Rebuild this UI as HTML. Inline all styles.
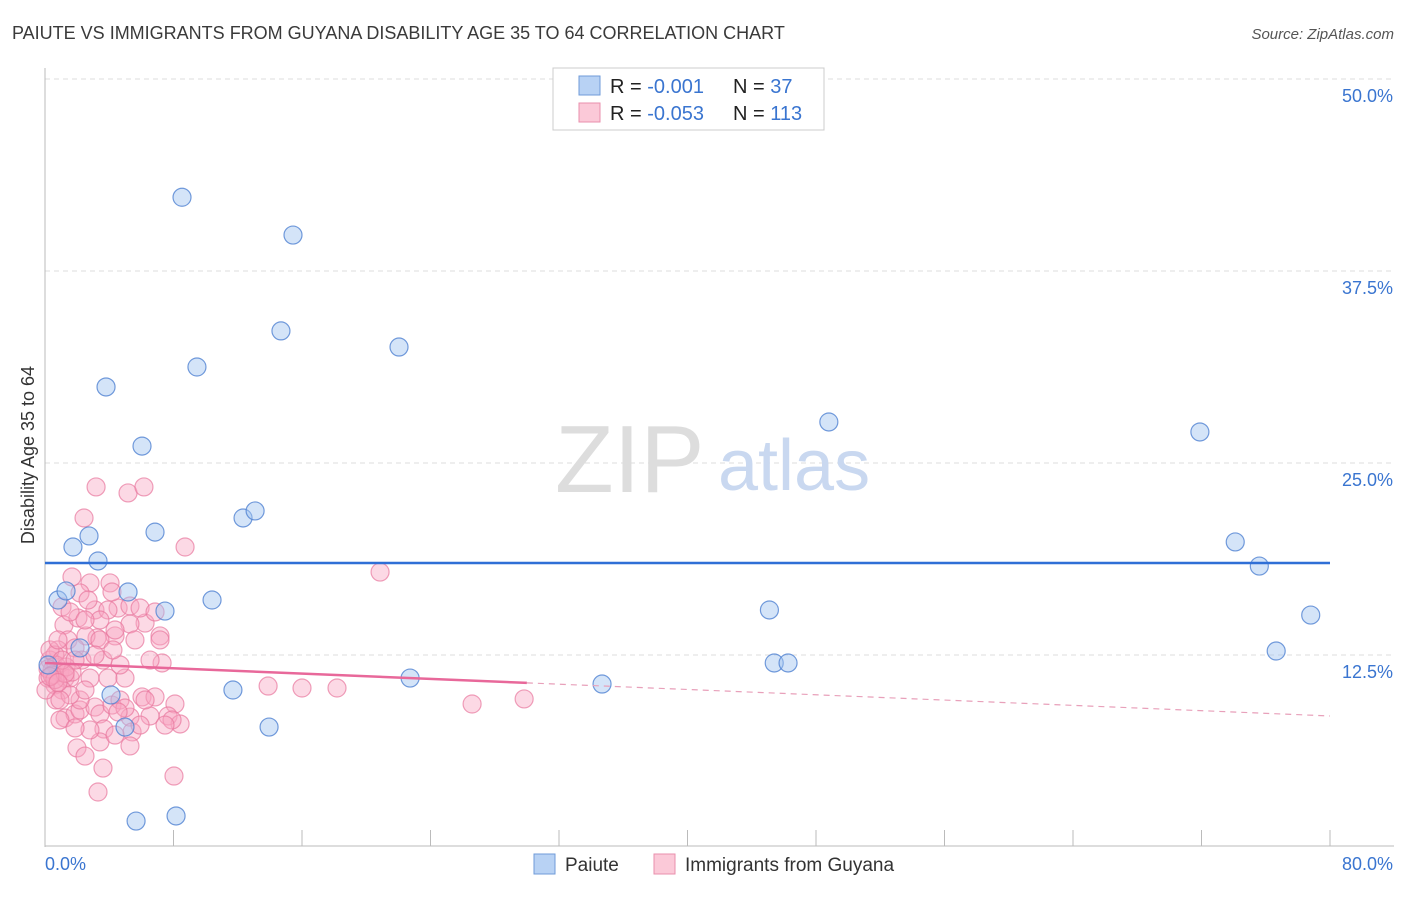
<!DOCTYPE html>
<html><head><meta charset="utf-8"><style>
body{margin:0;background:#fff;font-family:"Liberation Sans",sans-serif;}
svg text{font-family:"Liberation Sans",sans-serif;}
</style></head><body>
<svg id="chart" width="1406" height="892" xmlns="http://www.w3.org/2000/svg">
<text x="12" y="39" font-size="18" fill="#3a3a3a">PAIUTE VS IMMIGRANTS FROM GUYANA DISABILITY AGE 35 TO 64 CORRELATION CHART</text>
<text x="1394" y="39" font-size="15" fill="#555" font-style="italic" text-anchor="end">Source: ZipAtlas.com</text>
<text x="34" y="455" font-size="18" fill="#333" text-anchor="middle" transform="rotate(-90 34 455)">Disability Age 35 to 64</text>
<g id="grid"></g>
<text x="555" y="492" font-size="96" fill="#ddd" font-family="Liberation Serif">ZIP</text>
<text x="718" y="490" font-size="72" fill="#c9d8f0">atlas</text>
<g id="points"></g>
<g id="trends"></g>
<g>
<rect x="553" y="68" width="271" height="62" fill="#fff" stroke="#ccc"/>
<rect x="579" y="76" width="21" height="19" fill="#b8d2f4" stroke="#6f9bd8"/>
<rect x="579" y="103" width="21" height="19" fill="#fbc9d8" stroke="#ea8fac"/>
<text x="610" y="93" font-size="20" fill="#222">R = <tspan fill="#3a75d0">-0.001</tspan></text>
<text x="733" y="93" font-size="20" fill="#222">N = <tspan fill="#3a75d0"> 37</tspan></text>
<text x="610" y="120" font-size="20" fill="#222">R = <tspan fill="#3a75d0">-0.053</tspan></text>
<text x="733" y="120" font-size="20" fill="#222">N = <tspan fill="#3a75d0">113</tspan></text>
</g>
<g>
<rect x="534" y="854" width="21" height="20" fill="#b8d2f4" stroke="#6f9bd8"/>
<text x="565" y="871" font-size="19" fill="#333">Paiute</text>
<rect x="654" y="854" width="21" height="20" fill="#fbc9d8" stroke="#ea8fac"/>
<text x="685" y="871" font-size="19" fill="#333">Immigrants from Guyana</text>
</g>
</svg>
<script>
const yTicks=[12.5,25,37.5,50];
const yTickLabels=["12.5%","25.0%","37.5%","50.0%"];
const xTicks=[0,8,16,24,32,40,48,56,64,72,80];
const blueX=[8.53,15.44,14.69,22.04,9.46,3.80,6.04,48.8,71.9,6.85,12.33,13.08,1.74,2.74,3.30,74.1,75.6,5.17,0.81,1.31,7.47,10.4,45.1,78.8,2.18,76.65,45.4,46.26,11.7,22.73,34.68,4.11,13.95,4.98,5.67,8.16,0.19];
const blueY=[42.3,39.84,33.6,32.55,31.25,29.95,26.1,27.67,27.02,20.5,21.42,21.88,19.53,20.25,18.62,19.86,18.29,16.6,16.08,16.67,15.36,16.08,15.43,15.1,12.96,12.76,11.98,11.98,10.22,11.0,10.61,9.9,7.81,7.81,1.69,2.02,11.85];
const pinkX=[3.18,5.17,6.16,2.43,8.72,20.86,1.68,2.80,1.06,2.18,4.05,3.11,4.55,5.29,1.18,2.05,3.92,6.23,7.16,3.24,4.36,1.43,2.55,1.87,3.42,5.29,0.81,0.31,0.62,0.44,0.93,1.25,0.62,1.56,0.19,1.06,2.30,2.80,3.92,4.98,4.67,7.29,13.89,16.0,18.18,26.59,29.83,1.25,1.87,2.18,3.11,3.42,4.17,4.67,6.04,6.85,8.09,7.66,6.54,5.29,4.98,8.41,7.91,3.67,5.42,3.42,1.99,2.49,3.61,8.03,3.30,5.92,6.85,1.56,4.17,2.68,0.68,2.18,0.93,5.92,7.47,4.55,0.68,1.31,1.68,0.06,0.31,1.06,1.56,2.49,3.61,4.23,6.54,2.80,5.29,7.16,6.23,4.36,3.11,1.87,0.81,3.42,5.60,2.49,4.36,0.93,1.87,0.19,0.44,0.62,1.25,0.31,0.81];
const pinkY=[23.44,23.05,23.44,21.42,19.53,17.9,17.58,17.19,15.63,16.54,17.19,15.43,15.56,15.69,14.45,14.91,15.43,14.58,13.74,13.61,13.74,13.48,13.74,12.96,13.48,14.52,12.83,12.17,12.5,11.52,11.39,11.0,10.55,11.0,11.0,10.22,12.17,11.0,11.0,11.0,11.85,11.98,10.48,10.35,10.35,9.31,9.64,8.4,8.66,8.92,9.11,8.66,9.24,9.57,9.77,9.77,9.31,8.53,8.53,8.46,9.05,8.01,8.27,7.68,7.49,6.84,6.45,5.92,5.14,4.62,3.58,15.56,15.30,15.30,16.6,16.08,9.57,9.57,8.27,7.94,7.94,8.79,11.85,11.72,11.39,10.22,12.83,12.17,9.9,10.22,12.17,12.83,12.17,7.62,6.58,13.48,9.57,14.13,12.5,12.17,13.48,14.78,13.48,14.78,7.29,9.57,7.75,11.6,11.2,10.9,11.3,11.1,10.7];
const blueTrend=[18.49,18.49];
const pinkTrend=[11.98,8.53];
const solidEnd=30;
const X0=45,X1=1330,Y0=847,PX=(X1-X0)/80,PY=15.36;
const sx=v=>X0+v*PX, sy=v=>Y0-v*PY;
const NS="http://www.w3.org/2000/svg";
function mk(tag,attrs,parent){const e=document.createElementNS(NS,tag);for(const k in attrs)e.setAttribute(k,attrs[k]);parent.appendChild(e);return e;}
const grid=document.getElementById('grid');
yTicks.forEach((t,i)=>{
 const l=mk('line',{x1:X0,x2:1394,y1:sy(t),y2:sy(t),stroke:'#ddd','stroke-dasharray':'5,4'},grid);
 
 
 const tx=mk('text',{x:1393,y:sy(t)+23,'font-size':18,fill:'#3a75d0','text-anchor':'end'},grid);
 tx.textContent=yTickLabels[i];
 
 
});
const ax=mk('line',{x1:X0,x2:X0,y1:68,y2:847,stroke:'#bbb'},grid);


const bx=mk('line',{x1:X0,x2:1394,y1:846,y2:846,stroke:'#bbb'},grid);


xTicks.forEach(t=>{
 const l=mk('line',{x1:sx(t),x2:sx(t),y1:830,y2:846,stroke:'#bbb'},grid);
 
 
});
const xl0=mk('text',{x:45,y:870,'font-size':18,fill:'#3a75d0'},grid);xl0.textContent='0.0%';


const xl1=mk('text',{x:1393,y:870,'font-size':18,fill:'#3a75d0','text-anchor':'end'},grid);xl1.textContent='80.0%';


const pts=document.getElementById('points');
pinkX.forEach((x,i)=>{
 const c=mk('circle',{cx:sx(x),cy:sy(pinkY[i]),r:9,fill:'rgba(248,165,192,0.42)',stroke:'rgba(232,120,158,0.7)','stroke-width':1.2},pts);
 
 
});
blueX.forEach((x,i)=>{
 const c=mk('circle',{cx:sx(x),cy:sy(blueY[i]),r:9,fill:'rgba(160,195,240,0.45)',stroke:'rgba(80,130,210,0.8)','stroke-width':1.2},pts);
 
 
});
const tr=document.getElementById('trends');
const b=mk('line',{x1:sx(0),x2:sx(80),y1:sy(blueTrend[0]),y2:sy(blueTrend[1]),stroke:'#2f6fd6','stroke-width':2.5},tr);


const py=x=>pinkTrend[0]+(pinkTrend[1]-pinkTrend[0])*x/80;
const p1=mk('line',{x1:sx(0),x2:sx(solidEnd),y1:sy(py(0)),y2:sy(py(solidEnd)),stroke:'#e8689a','stroke-width':2.5},tr);


const p2=mk('line',{x1:sx(solidEnd),x2:sx(80),y1:sy(py(solidEnd)),y2:sy(py(80)),stroke:'#e8a0ba','stroke-width':1.2,'stroke-dasharray':'6,5'},tr);


</script>
</body></html>
